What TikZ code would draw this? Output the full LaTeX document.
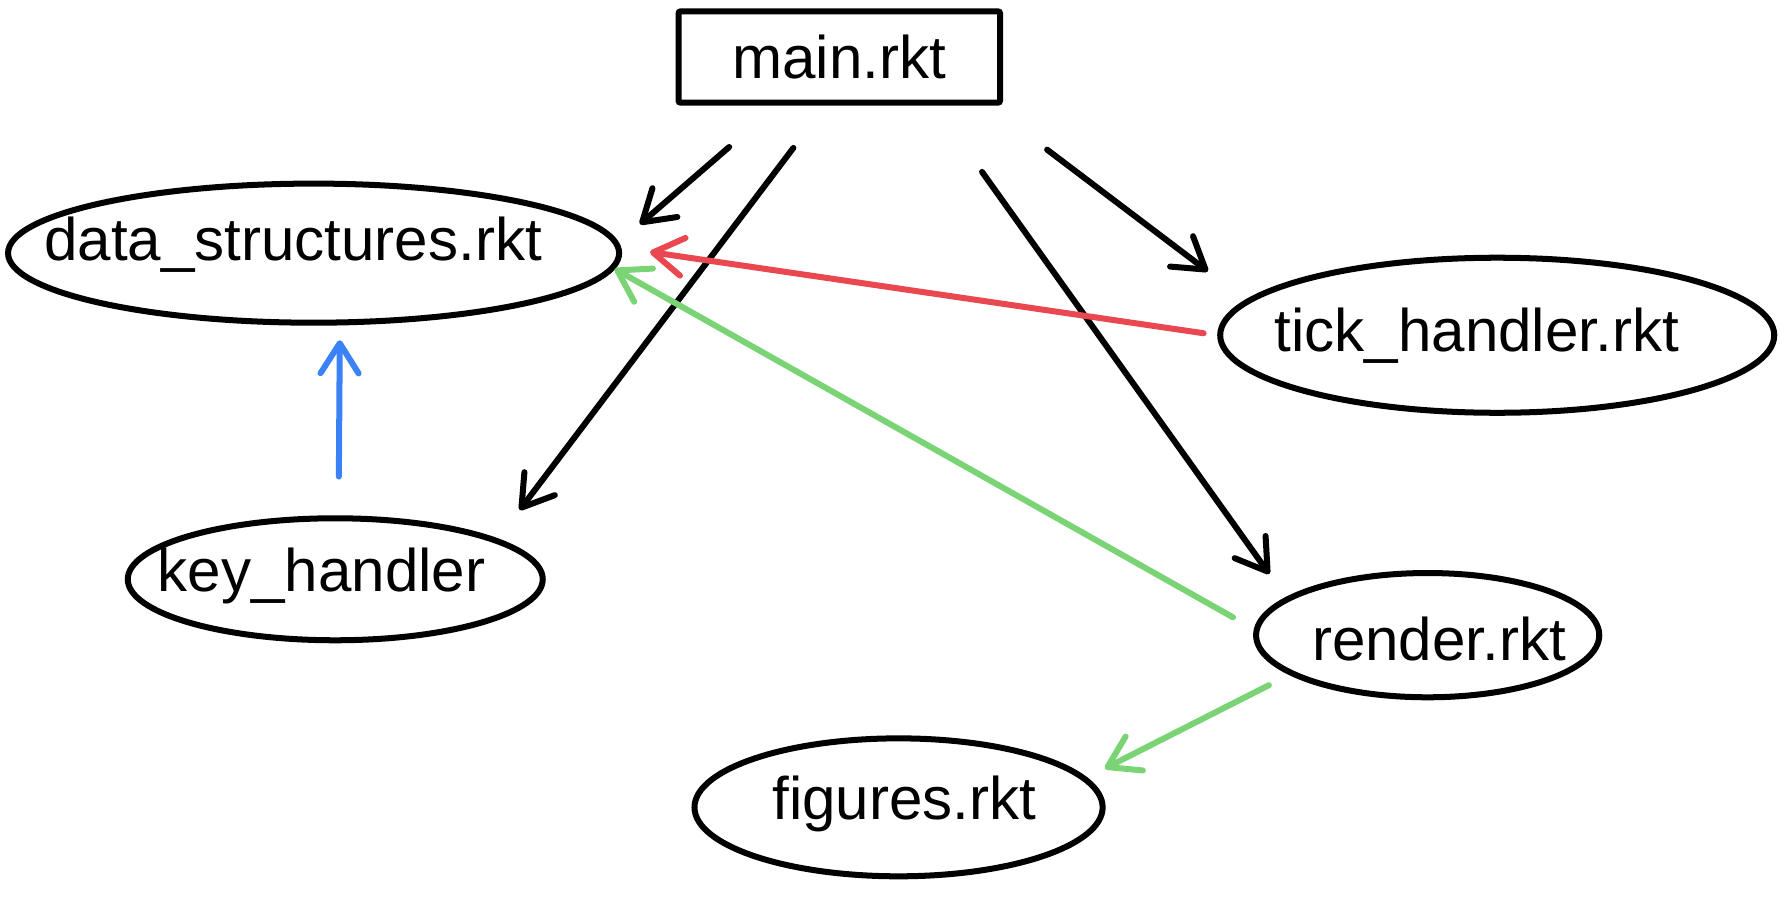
\documentclass[tikz,border=0pt]{standalone}
\usepackage{fontspec}
\setmainfont{Liberation Sans}
\usetikzlibrary{shapes.geometric,arrows.meta}
\definecolor{tick_dep}{RGB}{233,72,80}
\definecolor{render_dep}{RGB}{122,212,118}
\definecolor{key_dep}{RGB}{59,130,246}

\begin{document}
\begin{tikzpicture}[x=0.02cm, y=-0.02cm,
  line width=3pt,
  every node/.style={font=\fontsize{30}{34}\selectfont},
  module/.style={draw, ellipse, inner sep=0pt},
  uses/.style={-{Straight Barb[length=15pt,width=19pt,round]}, line cap=round}]
  \useasboundingbox (0,0) rectangle (1568,787);

  % modules
  \node[draw, rounded corners=1pt, minimum width=5.64cm, minimum height=1.6cm] (main) at (736,50) {main.rkt};
  \node[module, minimum width=10.72cm, minimum height=2.44cm,
        label={[xshift=-0.36cm, yshift=0.14cm]center:data\_structures.rkt}] (data) at (275,222) {};
  \node[module, minimum width=9.72cm, minimum height=2.72cm,
        label={[xshift=-0.36cm]center:tick\_handler.rkt}] (tick) at (1313,294) {};
  \node[module, minimum width=7.28cm, minimum height=2.14cm,
        label={[xshift=-0.24cm, yshift=0.06cm]center:key\_handler}] (key) at (294,508) {};
  \node[module, minimum width=6.02cm, minimum height=2.18cm,
        label={[xshift=0.2cm, yshift=-0.06cm]center:render.rkt}] (render) at (1252,557) {};
  \node[module, minimum width=7.16cm, minimum height=2.42cm,
        label={[xshift=0.1cm, yshift=0.06cm]center:figures.rkt}] (figures) at (788,708) {};

  % requires
  \draw[uses, shorten <=1.11cm, shorten >=0.49cm] (main.218.7) -- (data.2.5);
  \draw[uses, shorten <=0.93cm, shorten >=0.63cm] (main.254) -- (key.14.9);
  \draw[uses, shorten <=1.43cm, shorten >=0.5cm] (main.333.5) -- (render.165.5);
  \draw[uses, shorten <=1.28cm, shorten >=0.83cm] (main.342.5) -- (tick.172.9);
  \draw[uses, tick_dep, shorten <=0.24cm, shorten >=0.51cm] (tick.180.4) -- (data.1.7);
  \draw[uses, render_dep, shorten <=0.42cm] (render.178.9) -- (data.-3);
  \draw[uses, key_dep, shorten <=0.68cm, shorten >=0.26cm] (key.87.9) -- (data.-70.9);
  \draw[uses, render_dep, shorten <=0.4cm, shorten >=0.35cm] (render.196.4) -- (figures.9.8);
\end{tikzpicture}
\end{document}
